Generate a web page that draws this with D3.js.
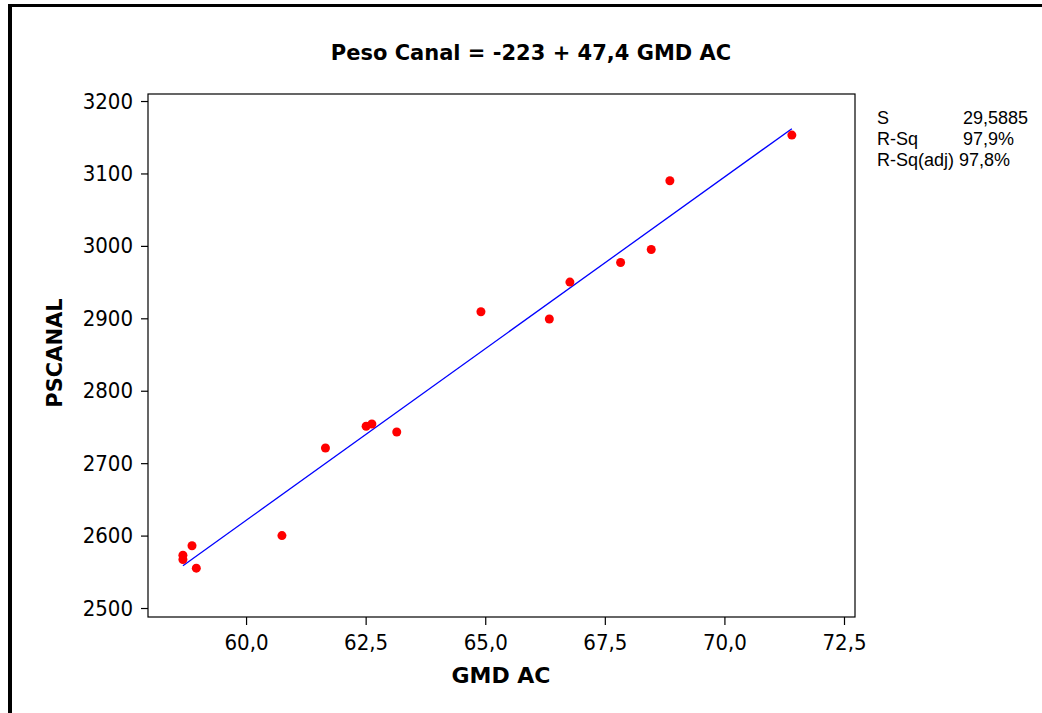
<!DOCTYPE html>
<html>
<head>
<meta charset="utf-8">
<script src="https://cdn.jsdelivr.net/npm/d3@7"></script>
<style>
  html, body { margin: 0; padding: 0; background: #fff; }
  svg { display: block; }
</style>
</head>
<body>
<svg id="chart" width="1042" height="713"></svg>
<script>
// ---- data ----
const gmdAC = [58.68, 58.68, 58.87, 58.96, 60.75, 61.66, 62.51, 62.63, 63.15, 64.91, 66.34, 66.77, 67.83, 68.47, 68.86, 71.41];
const psCanal = [2573, 2567, 2586, 2555, 2600, 2721, 2751, 2754, 2743, 2909, 2899, 2950, 2977, 2995, 3090, 3153];
const xTicks = [60.0, 62.5, 65.0, 67.5, 70.0, 72.5];
const yTicks = [2500, 2600, 2700, 2800, 2900, 3000, 3100, 3200];
const fitIntercept = -223;
const fitSlope = 47.4;
const statLabels = ["S", "R-Sq", "R-Sq(adj)"];
const statValues = ["29,5885", "97,9%", "97,8%"];
const titleText = "Peso Canal = -223 + 47,4 GMD AC";
const xLabel = "GMD AC";
const yLabel = "PSCANAL";

// ---- layout ----
const svg = d3.select("#chart");
const L = 148, R = 855, T = 94, B = 617;
const tickFont = "'DejaVu Sans Condensed', 'DejaVu Sans', sans-serif";
const boldFont = "'DejaVu Sans', sans-serif";

const x = d3.scaleLinear().domain([57.95, 72.73]).range([L, R]);
const y = d3.scaleLinear().domain([2487.6, 3209.7]).range([B, T]);

// outer thick frame
svg.append("line").attr("x1", 10).attr("x2", 10).attr("y1", 4).attr("y2", 713)
  .attr("stroke", "#000").attr("stroke-width", 4);
svg.append("line").attr("x1", 8).attr("x2", 1042).attr("y1", 5.5).attr("y2", 5.5)
  .attr("stroke", "#000").attr("stroke-width", 3);

// plot frame
svg.append("rect").attr("x", L).attr("y", T).attr("width", R - L).attr("height", B - T)
  .attr("fill", "none").attr("stroke", "#000").attr("stroke-width", 1.2);

// axes
const fmtComma = d => d3.format(".1f")(d).replace(".", ",");
const xAxis = svg.append("g").attr("transform", `translate(0,${B})`)
  .call(d3.axisBottom(x).tickValues(xTicks).tickFormat(fmtComma).tickSize(8).tickPadding(9).tickSizeOuter(0));
const yAxis = svg.append("g").attr("transform", `translate(${L},0)`)
  .call(d3.axisLeft(y).tickValues(yTicks).tickFormat(d3.format("d")).tickSize(7).tickPadding(8).tickSizeOuter(0));
[xAxis, yAxis].forEach(g => {
  g.select(".domain").remove();
  g.selectAll(".tick line").attr("stroke", "#000").attr("stroke-width", 1.2);
  g.selectAll(".tick text").attr("fill", "#000").style("font-family", tickFont).style("font-size", "22px");
});

// regression line
const xr = d3.extent(gmdAC);
svg.append("line")
  .attr("x1", x(xr[0])).attr("y1", y(fitIntercept + fitSlope * xr[0]))
  .attr("x2", x(xr[1])).attr("y2", y(fitIntercept + fitSlope * xr[1]))
  .attr("stroke", "#0000ff").attr("stroke-width", 1.3);

// points
svg.append("g").selectAll("circle").data(gmdAC).join("circle")
  .attr("cx", d => x(d)).attr("cy", (d, i) => y(psCanal[i])).attr("r", 4.5)
  .attr("fill", "#ff0000");

// title
svg.append("text").attr("x", 531).attr("y", 60).attr("text-anchor", "middle")
  .style("font-family", boldFont).style("font-weight", "bold").style("font-size", "21px")
  .text(titleText);

// axis labels
svg.append("text").attr("x", 501).attr("y", 683).attr("text-anchor", "middle")
  .style("font-family", boldFont).style("font-weight", "bold").style("font-size", "22px")
  .text(xLabel);
svg.append("text").attr("transform", "translate(62,353) rotate(-90)").attr("text-anchor", "middle")
  .style("font-family", boldFont).style("font-weight", "bold").style("font-size", "21px")
  .text(yLabel);

// stats box
const stats = svg.append("g").style("font-family", "'Liberation Sans', Arial, sans-serif").style("font-size", "18px");
statLabels.forEach((lab, i) => {
  const yy = 124 + i * 21;
  if (i < 2) {
    stats.append("text").attr("x", 877).attr("y", yy).text(lab);
    stats.append("text").attr("x", 963).attr("y", yy).text(statValues[i]);
  } else {
    stats.append("text").attr("x", 877).attr("y", yy).text(lab + " " + statValues[i]);
  }
});
</script>
</body>
</html>
